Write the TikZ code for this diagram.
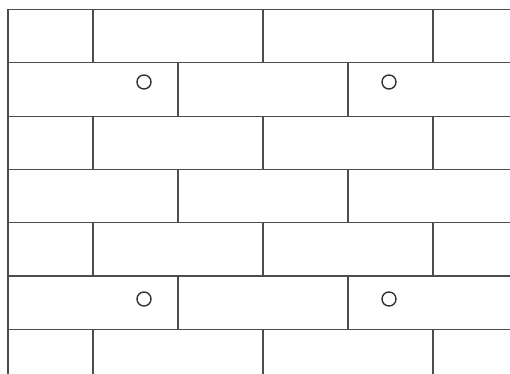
\documentclass[tikz,border=0pt]{standalone}
\usepackage{tikz}
\usetikzlibrary{calc}

\begin{document}
\begin{tikzpicture}[
        x=0.02cm, y=-0.02cm, line width=0.6pt,
        joint/.style={draw=black!70},
        hole/.style={draw=black!80, line width=0.8pt},
    ]
    \useasboundingbox (0, 0) rectangle (510, 374);

    % bed joints and left edge
    \foreach \r in {0,...,6}
        \draw[joint] (8, 9.5+53.3*\r) -- (510, 9.5+53.3*\r);
    \draw[joint] (8, 9.5) -- (8, 374);

    % head joints, even courses
    \foreach \r in {0,2,4}
        \foreach \x in {93,263,433}
            \draw[joint] (\x, 9.5+53.3*\r) -- (\x, 9.5+53.3*\r+53.3);
    \foreach \x in {93,263,433}
        \draw[joint] (\x, 329.3) -- (\x, 374);

    % head joints, odd courses
    \foreach \r in {1,3,5}
        \foreach \x in {178,348}
            \draw[joint] (\x, 9.5+53.3*\r) -- (\x, 9.5+53.3*\r+53.3);

    % anchors
    \draw[hole] (144, 82) circle (7);
    \draw[hole] (389, 82) circle (7);
    \draw[hole] (144, 299) circle (7);
    \draw[hole] (389, 299) circle (7);

    \end{tikzpicture}
\end{document}
